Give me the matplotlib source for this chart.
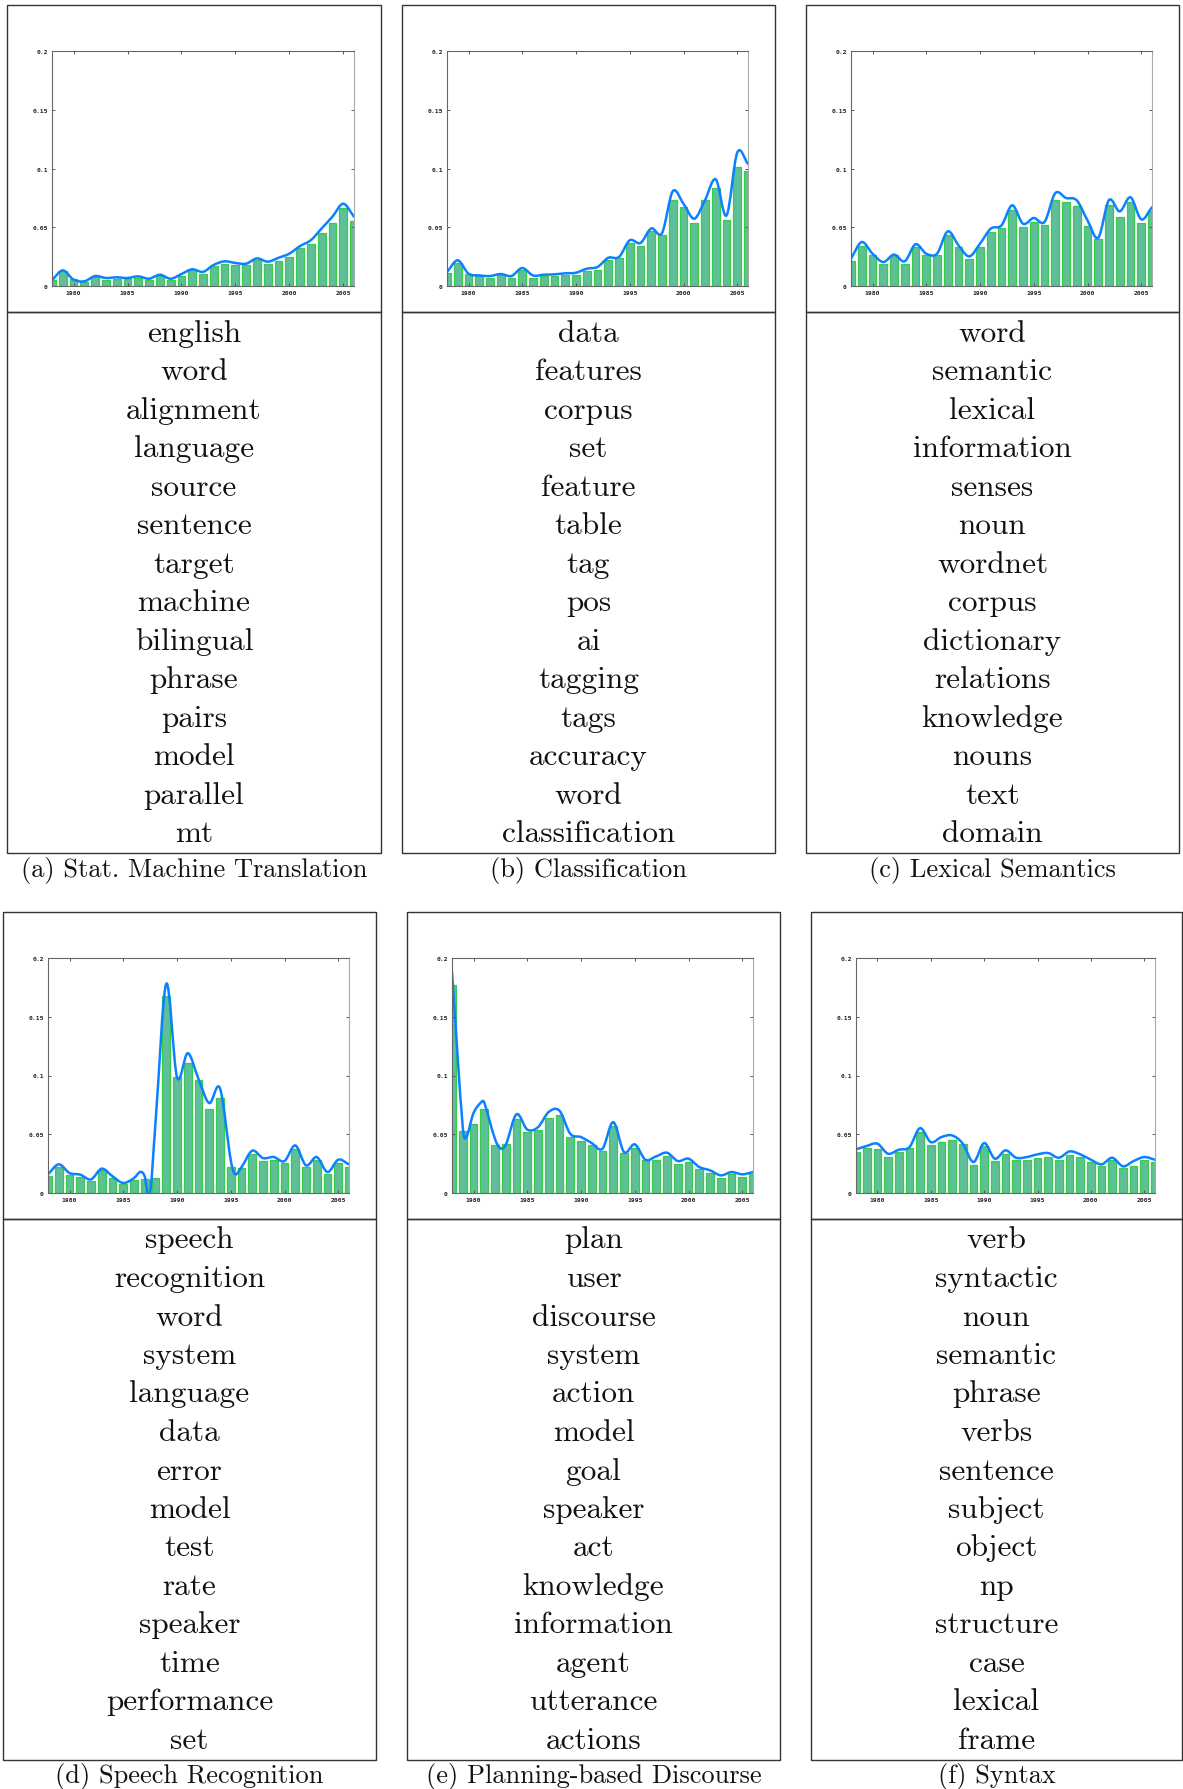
import matplotlib
matplotlib.use('Agg')
import matplotlib.pyplot as plt
from matplotlib.path import Path
from matplotlib.patches import PathPatch, Rectangle

# yearly topic proportions, 1978-2006
years = list(range(1978, 2007))

smt_bars = [0.0054, 0.0125, 0.0062, 0.0037, 0.0074, 0.0054, 0.0062, 0.0062, 0.0071, 0.0054,
            0.0082, 0.0054, 0.0088, 0.0133, 0.0105, 0.0167, 0.019, 0.018, 0.018, 0.022,
            0.019, 0.021, 0.025, 0.032, 0.036, 0.045, 0.054, 0.066, 0.055]
smt_curve = [0.005, 0.0133, 0.0054, 0.004, 0.0085, 0.0068, 0.0074, 0.0068, 0.0082, 0.0062,
             0.0096, 0.0062, 0.0102, 0.0142, 0.012, 0.018, 0.021, 0.0196, 0.019, 0.0235,
             0.0207, 0.024, 0.0275, 0.034, 0.039, 0.049, 0.059, 0.070, 0.059]

clf_bars = [0.0113, 0.020, 0.0102, 0.0085, 0.0071, 0.009, 0.0071, 0.0133, 0.0071, 0.0082,
            0.0082, 0.0096, 0.0096, 0.0128, 0.0139, 0.0224, 0.0238, 0.0366, 0.0338, 0.0468,
            0.0437, 0.0735, 0.0675, 0.0533, 0.0735, 0.0837, 0.0559, 0.1016, 0.098]
clf_curve = [0.0119, 0.0218, 0.0105, 0.009, 0.0085, 0.0102, 0.0085, 0.0153, 0.009, 0.0096,
             0.0099, 0.0108, 0.0113, 0.0147, 0.0162, 0.024, 0.0247, 0.0389, 0.0366, 0.049,
             0.045, 0.0806, 0.070, 0.0573, 0.073, 0.0908, 0.060, 0.1135, 0.104]

lex_bars = [0.021, 0.0343, 0.0267, 0.019, 0.026, 0.019, 0.0329, 0.0267, 0.0267, 0.0431,
            0.0332, 0.0233, 0.0329, 0.0462, 0.0494, 0.065, 0.0505, 0.0545, 0.0516, 0.0732,
            0.0715, 0.0684, 0.0513, 0.0397, 0.0692, 0.059, 0.0715, 0.0539, 0.064]
lex_curve = [0.0233, 0.0374, 0.0275, 0.0204, 0.0267, 0.021, 0.0355, 0.0275, 0.0275, 0.0465,
             0.0346, 0.0252, 0.036, 0.0488, 0.0516, 0.0687, 0.053, 0.0579, 0.0545, 0.079,
             0.0749, 0.0729, 0.0559, 0.0411, 0.0732, 0.0635, 0.0755, 0.0567, 0.067]

sr_bars = [0.0142, 0.0221, 0.0156, 0.0139, 0.0105, 0.0193, 0.013, 0.0074, 0.0113, 0.0122,
           0.013, 0.168, 0.0989, 0.1105, 0.0963, 0.0717, 0.081, 0.0221, 0.0215, 0.0334,
           0.0275, 0.0278, 0.0258, 0.0377, 0.0221, 0.0283, 0.0161, 0.0252, 0.0224]
sr_curve_x = [1978, 1979, 1980, 1981, 1982, 1983, 1984, 1985, 1986, 1986.6, 1987, 1987.45,
              1988, 1989, 1990, 1991, 1992, 1993, 1994, 1995, 1995.4, 1996, 1997, 1998,
              1999, 2000, 2001, 2002, 2003, 2004, 2005, 2006]
sr_curve = [0.0159, 0.0244, 0.017, 0.0156, 0.0116, 0.0207, 0.0142, 0.0085, 0.0127, 0.018,
            0.014, -0.004, 0.06, 0.178, 0.0986, 0.119, 0.097, 0.0765, 0.089, 0.028,
            0.016, 0.022, 0.036, 0.0297, 0.0306, 0.0272, 0.0405, 0.0235, 0.0306, 0.0178,
            0.0283, 0.0244]

plan_bars = [0.177, 0.0524, 0.0589, 0.0714, 0.0408, 0.0416, 0.0629, 0.0521, 0.0533, 0.064,
             0.0666, 0.0476, 0.0442, 0.0405, 0.036, 0.0572, 0.0337, 0.0385, 0.0278, 0.028,
             0.0317, 0.0249, 0.0266, 0.0204, 0.017, 0.013, 0.0161, 0.0139, 0.0161]
plan_curve_x = [1978, 1979, 1979.3, 1980, 1980.8, 1981, 1982, 1982.5, 1983, 1984, 1985,
                1986, 1987, 1988, 1989, 1990, 1991, 1992, 1993, 1994, 1995, 1996, 1997,
                1998, 1999, 2000, 2001, 2002, 2003, 2004, 2005, 2006]
plan_curve = [0.188, 0.056, 0.047, 0.068, 0.078, 0.077, 0.046, 0.038, 0.041, 0.067, 0.054,
              0.056, 0.069, 0.070, 0.0504, 0.0476, 0.0425, 0.0377, 0.0603, 0.0348, 0.0414,
              0.0283, 0.0312, 0.0343, 0.0272, 0.0292, 0.0221, 0.0193, 0.015, 0.0178,
              0.0159, 0.0178]

syn_bars = [0.0348, 0.0382, 0.0374, 0.0306, 0.0348, 0.0382, 0.0518, 0.0411, 0.0433, 0.0453,
            0.0419, 0.0241, 0.0399, 0.0269, 0.0334, 0.0283, 0.0278, 0.0297, 0.0306, 0.0278,
            0.0326, 0.0306, 0.0266, 0.0227, 0.0278, 0.0215, 0.0227, 0.0278, 0.0263]
syn_curve = [0.0371, 0.040, 0.042, 0.0334, 0.0368, 0.039, 0.0552, 0.0433, 0.0476, 0.049,
             0.042, 0.0263, 0.0425, 0.0292, 0.0363, 0.030, 0.0306, 0.0329, 0.034, 0.030,
             0.0354, 0.0329, 0.0283, 0.0244, 0.030, 0.0227, 0.0272, 0.0306, 0.0283]

smt_words = ['english', 'word', 'alignment', 'language', 'source', 'sentence', 'target',
             'machine', 'bilingual', 'phrase', 'pairs', 'model', 'parallel', 'mt']
clf_words = ['data', 'features', 'corpus', 'set', 'feature', 'table', 'tag', 'pos', 'ai',
             'tagging', 'tags', 'accuracy', 'word', 'classification']
lex_words = ['word', 'semantic', 'lexical', 'information', 'senses', 'noun', 'wordnet',
             'corpus', 'dictionary', 'relations', 'knowledge', 'nouns', 'text', 'domain']
sr_words = ['speech', 'recognition', 'word', 'system', 'language', 'data', 'error', 'model',
            'test', 'rate', 'speaker', 'time', 'performance', 'set']
plan_words = ['plan', 'user', 'discourse', 'system', 'action', 'model', 'goal', 'speaker',
              'act', 'knowledge', 'information', 'agent', 'utterance', 'actions']
syn_words = ['verb', 'syntactic', 'noun', 'semantic', 'phrase', 'verbs', 'sentence',
             'subject', 'object', 'np', 'structure', 'case', 'lexical', 'frame']

captions = ['(a) Stat. Machine Translation', '(b) Classification', '(c) Lexical Semantics',
            '(d) Speech Recognition', '(e) Planning-based Discourse', '(f) Syntax']

panels = [
    (years, smt_bars, years, smt_curve, smt_words),
    (years, clf_bars, years, clf_curve, clf_words),
    (years, lex_bars, years, lex_curve, lex_words),
    (years, sr_bars, sr_curve_x, sr_curve, sr_words),
    (years, plan_bars, plan_curve_x, plan_curve, plan_words),
    (years, syn_bars, years, syn_curve, syn_words),
]

W, H = 1183, 1790
# (box left, box right, box top, caption baseline) in pixels
boxes = [(7, 381, 6, 877), (402, 775, 6, 877), (806, 1179, 6, 877),
         (3, 376, 913, 1783), (407, 780, 913, 1783), (811, 1182, 913, 1783)]

BAR_FILL = '#5ebf98'
BAR_EDGE = '#38cc48'
CURVE = '#0a82ff'


def smooth_path(xs, ys):
    # cubic Hermite segments through the knots, written as bezier curves
    n = len(xs)
    m = []
    for i in range(n):
        if i == 0:
            m.append((ys[1] - ys[0]) / (xs[1] - xs[0]))
        elif i == n - 1:
            m.append((ys[-1] - ys[-2]) / (xs[-1] - xs[-2]))
        else:
            m.append((ys[i + 1] - ys[i - 1]) / (xs[i + 1] - xs[i - 1]))
    verts = [(xs[0], ys[0])]
    codes = [Path.MOVETO]
    for i in range(n - 1):
        h = xs[i + 1] - xs[i]
        verts += [(xs[i] + h / 3, ys[i] + m[i] * h / 3),
                  (xs[i + 1] - h / 3, ys[i + 1] - m[i + 1] * h / 3),
                  (xs[i + 1], ys[i + 1])]
        codes += [Path.CURVE4] * 3
    return Path(verts, codes)


plt.rcParams['font.family'] = 'cmr10'
plt.rcParams['axes.formatter.use_mathtext'] = True

fig = plt.figure(figsize=(W / 100, H / 100), dpi=100)
fig.patch.set_facecolor('white')

# pixel-space canvas for frames, word lists and captions
bg = fig.add_axes([0, 0, 1, 1])
bg.set_xlim(0, W)
bg.set_ylim(H, 0)
bg.axis('off')

tick_font = dict(fontfamily='DejaVu Sans Mono', fontweight='bold', fontsize=4.6, color='#222222')

for (bx, bars, cx, curve, words), (left, right, top, cap_y), cap in zip(panels, boxes, captions):
    chart_bottom = top + 307
    words_bottom = chart_bottom + 541
    bg.add_patch(Rectangle((left, top), right - left, chart_bottom - top,
                           fill=False, edgecolor='#333333', lw=1.0))
    bg.add_patch(Rectangle((left, chart_bottom), right - left, words_bottom - chart_bottom,
                           fill=False, edgecolor='#333333', lw=1.0))

    for i, w in enumerate(words):
        bg.text((left + right) / 2, chart_bottom + 28.5 + i * 38.5, w,
                ha='center', va='baseline', fontsize=22.5, color='#111111')
    bg.text((left + right) / 2, cap_y, cap, ha='center', va='baseline',
            fontsize=19, color='#111111')

    # small chart
    ax_l = left + 45
    ax_r = right - 27
    ax_t = top + 46
    ax_b = top + 281
    ax = fig.add_axes([ax_l / W, 1 - ax_b / H, (ax_r - ax_l) / W, (ax_b - ax_t) / H])
    ax.bar(bx, bars, width=0.72, color=BAR_FILL, edgecolor=BAR_EDGE, linewidth=0.9)
    ax.add_patch(PathPatch(smooth_path(cx, curve), fill=False, edgecolor=CURVE,
                           lw=1.8, capstyle='round', joinstyle='round'))
    ax.set_xlim(1978, 2006)
    ax.set_ylim(0, 0.2)
    ax.set_xticks([1980, 1985, 1990, 1995, 2000, 2005])
    ax.set_xticklabels(['1980', '1985', '1990', '1995', '2000', '2005'], **tick_font)
    ax.set_yticks([0, 0.05, 0.1, 0.15, 0.2])
    ax.set_yticklabels(['0', '0.05', '0.1', '0.15', '0.2'], **tick_font)
    ax.tick_params(direction='in', length=2.5, width=0.7, colors='#555555',
                   top=True, right=True, pad=3)
    for lab in ax.get_xticklabels() + ax.get_yticklabels():
        lab.set_color('#222222')
    for side in ['left', 'top', 'bottom']:
        ax.spines[side].set_color('#666666')
        ax.spines[side].set_linewidth(0.8)
    ax.spines['right'].set_color('#aaaaaa')
    ax.spines['right'].set_linewidth(0.8)

fig.savefig('out.png', dpi=100)
